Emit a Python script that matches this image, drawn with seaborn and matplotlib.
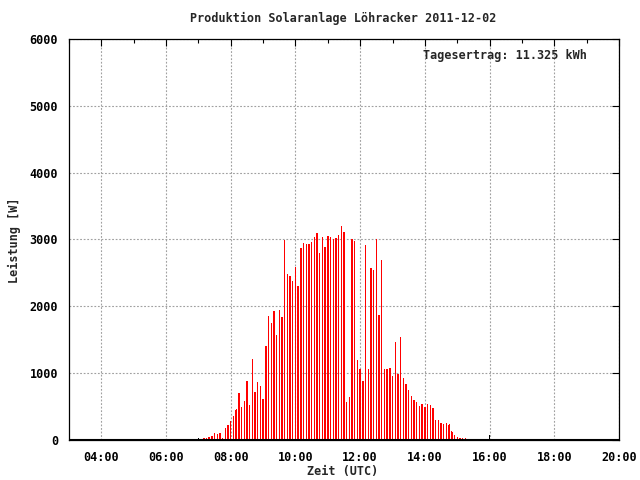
import matplotlib
matplotlib.use("Agg")
import matplotlib.pyplot as plt
import matplotlib.ticker as mticker
import seaborn as sns
import pandas as pd

# Leistung alle 5 Minuten, ab 06:55 UTC (Minuten seit Mitternacht)
start_min = 415
step_min = 5
power = [
    15, 30, 15, 30, 30, 45, 60, 90, 75, 105, 30, 165,          # 06:55 - 07:50
    210, 270, 345, 450, 700, 490, 580, 880, 520, 1210, 715, 865,  # 07:55 - 08:50
    805, 610, 1400, 1850, 1745, 1925, 1565, 1940, 1835, 2990, 2480, 2450,  # 08:55 - 09:50
    2375, 2585, 2300, 2865, 2940, 2925, 2925, 2955, 3030, 3090, 2790, 3030,  # 09:55 - 10:50
    2880, 3045, 3030, 3000, 3015, 3060, 3195, 3105, 567, 642, 3000, 2970,  # 10:55 - 11:50
    1195, 1060, 880, 2910, 1060, 2565, 2535, 3000, 1865, 2690, 1060, 1060,  # 11:55 - 12:50
    1075, 955, 1465, 985, 1535, 925, 835, 745, 655, 595, 565, 505,  # 12:55 - 13:50
    535, 480, 535, 520, 465, 285, 285, 240, 225, 240, 225, 120,  # 13:55 - 14:50
    60, 45, 30, 30, 30, 15, 15, 15,  # 14:55 - 15:30
]
minutes = [start_min + i * step_min for i in range(len(power))]

# schwarze Einzelwerte
mark_minutes = [420, 960]
mark_power = [30, 60]

df = pd.DataFrame({
    "minute": minutes + mark_minutes,
    "power": power + mark_power,
    "series": ["P"] * len(power) + ["M"] * len(mark_power),
})

sns.set_style("white")
font = "DejaVu Sans Mono"
plt.rcParams["font.family"] = [font, "DejaVu Sans"]
plt.rcParams["font.weight"] = "bold"
plt.rcParams["font.size"] = 8.5

fig = plt.figure(figsize=(6.4, 4.8), dpi=100)
ax = fig.add_axes([69 / 640, 1 - 440 / 480, 550 / 640, 401 / 480])

sns.barplot(data=df, x="minute", y="power", hue="series",
            hue_order=["P", "M"], palette={"P": "#ff0000", "M": "#000000"},
            native_scale=True, dodge=False, width=0.15, errorbar=None,
            legend=False, linewidth=0, saturation=1, ax=ax)
for p in ax.patches:
    p.set_antialiased(False)
    p.set_snap(False)
    p.set_zorder(3)

ax.set_xlim(180, 1200)
ax.set_ylim(0, 6000)

ax.xaxis.set_major_locator(mticker.MultipleLocator(120))
ax.xaxis.set_minor_locator(mticker.MultipleLocator(60))
ax.xaxis.set_major_formatter(
    mticker.FuncFormatter(lambda v, p: "%02d:%02d" % (int(v) // 60, int(v) % 60)))
ax.yaxis.set_major_locator(mticker.MultipleLocator(1000))
ax.yaxis.set_major_formatter(mticker.FuncFormatter(lambda v, p: "%d" % v))

ax.tick_params(which="both", direction="in", top=True, right=True,
               colors="black", labelsize=8.5)
ax.tick_params(which="major", length=5, width=0.8, pad=8)
ax.tick_params(which="minor", length=3, width=0.8)
for lab in ax.get_xticklabels() + ax.get_yticklabels():
    lab.set_fontweight("bold")

ax.grid(True, which="major", color="#a0a0a0", linestyle=(0, (1.6, 1.6)),
        linewidth=0.8)
ax.set_axisbelow(True)
for s in ax.spines.values():
    s.set_visible(True)
    s.set_color("black")
    s.set_linewidth(0.9)
ax.axhline(0, color="black", lw=1.5, zorder=5)

ax.set_xlabel("")
ax.set_ylabel("")
fig.text(0.537, 1 - 18 / 480, "Produktion Solaranlage Löhracker 2011-12-02",
         ha="center", va="center", fontsize=8.5, fontweight="bold")
fig.text(0.535, 1 - 472 / 480, "Zeit (UTC)", ha="center", va="center",
         fontsize=8.5, fontweight="bold")
fig.text(14 / 640, 0.5, "Leistung [W]", rotation=90, ha="center",
         va="center", fontsize=8.5, fontweight="bold")
ax.text(0.942, 0.958, "Tagesertrag: 11.325 kWh", transform=ax.transAxes,
        ha="right", va="center", fontsize=8.5, fontweight="bold")

fig.savefig("out.png", dpi=100, facecolor="white")
